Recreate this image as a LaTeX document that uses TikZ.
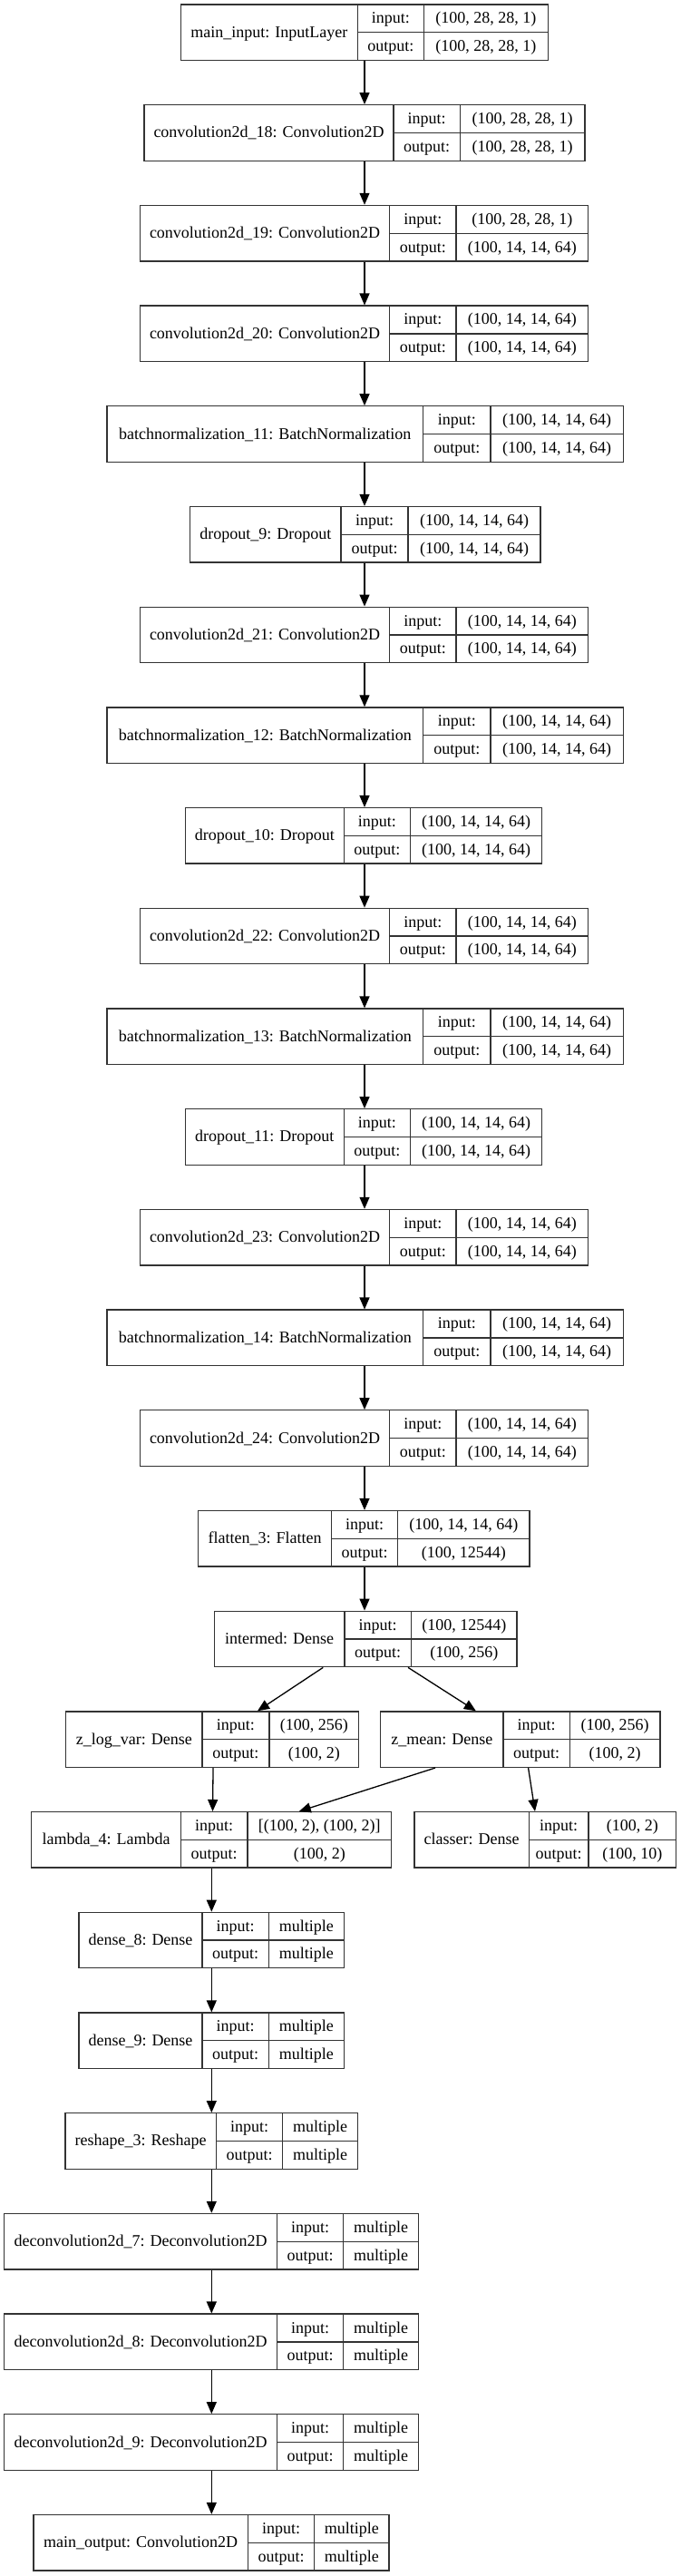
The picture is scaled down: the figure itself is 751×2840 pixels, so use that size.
\documentclass[tikz,border=0pt]{standalone}
\usepackage{fontspec}
\setmainfont{Liberation Serif}
\usetikzlibrary{arrows.meta}
\tikzset{
  rec/.style={draw=black!80, line width=1.3pt, inner sep=0pt, minimum height=61.5pt, fill=white},
  recline/.style={draw=black!80, line width=1.3pt},
  txt/.style={inner sep=0pt, text height=13pt, text depth=2pt, anchor=center},
  arr/.style={draw=black, line width=1.3pt, -{Triangle[length=13pt,width=11pt]}}
}
\newcommand{\layer}[9]{%
  \pgfmathsetmacro{\RKyt}{5+#2*110.7}%
  \pgfmathsetmacro{\RKyb}{\RKyt+61.5}%
  \pgfmathsetmacro{\RKym}{\RKyt+30.75}%
  \pgfmathsetmacro{\RKyi}{\RKyt+15.375}%
  \pgfmathsetmacro{\RKyo}{\RKym+15.375}%
  \pgfmathsetmacro{\RKcx}{(#3+#6)/2}%
  \pgfmathsetmacro{\RKw}{#6-#3}%
  \pgfmathsetmacro{\RKa}{(#3+#4)/2}%
  \pgfmathsetmacro{\RKb}{(#4+#5)/2}%
  \pgfmathsetmacro{\RKc}{(#5+#6)/2}%
  \node[rec, minimum width=\RKw pt] (#1) at (\RKcx,\RKym) {};
  \draw[recline] (#4,\RKyt) -- (#4,\RKyb);
  \draw[recline] (#5,\RKyt) -- (#5,\RKyb);
  \draw[recline] (#4,\RKym) -- (#6,\RKym);
  \node[txt] (#1-l) at (\RKa,\RKym) {#7};
  \node[txt] (#1-i) at (\RKb,\RKyi) {input:};
  \node[txt] (#1-o) at (\RKb,\RKyo) {output:};
  \node[txt] (#1-iv) at (\RKc,\RKyi) {#8};
  \node[txt] (#1-ov) at (\RKc,\RKyo) {#9};
}
\begin{document}
\begin{tikzpicture}[x=1pt, y=-1pt, font=\fontsize{18}{21}\selectfont]
\useasboundingbox[fill=white] (0,0) rectangle (751,2840);
\coordinate (ax) at (402,0);
\coordinate (ax2) at (233.3,0);
\layer{n0}{0}{199.5}{394.3}{467.5}{604.3}{main\_input: InputLayer}{(100, 28, 28, 1)}{(100, 28, 28, 1)}
\layer{n1}{1}{159}{434}{507.3}{645}{convolution2d\_18: Convolution2D}{(100, 28, 28, 1)}{(100, 28, 28, 1)}
\layer{n2}{2}{154.5}{429.5}{503}{648.5}{convolution2d\_19: Convolution2D}{(100, 28, 28, 1)}{(100, 14, 14, 64)}
\layer{n3}{3}{154.5}{429.5}{503}{648.5}{convolution2d\_20: Convolution2D}{(100, 14, 14, 64)}{(100, 14, 14, 64)}
\layer{n4}{4}{118}{466.5}{541}{687.3}{batchnormalization\_11: BatchNormalization}{(100, 14, 14, 64)}{(100, 14, 14, 64)}
\layer{n5}{5}{209.6}{376}{450}{596}{dropout\_9: Dropout}{(100, 14, 14, 64)}{(100, 14, 14, 64)}
\layer{n6}{6}{154.5}{429.5}{503}{648.5}{convolution2d\_21: Convolution2D}{(100, 14, 14, 64)}{(100, 14, 14, 64)}
\layer{n7}{7}{118}{466.5}{541}{687.3}{batchnormalization\_12: BatchNormalization}{(100, 14, 14, 64)}{(100, 14, 14, 64)}
\layer{n8}{8}{204.3}{379.3}{452.3}{597.7}{dropout\_10: Dropout}{(100, 14, 14, 64)}{(100, 14, 14, 64)}
\layer{n9}{9}{154.5}{429.5}{503}{648.5}{convolution2d\_22: Convolution2D}{(100, 14, 14, 64)}{(100, 14, 14, 64)}
\layer{n10}{10}{118}{466.5}{541}{687.3}{batchnormalization\_13: BatchNormalization}{(100, 14, 14, 64)}{(100, 14, 14, 64)}
\layer{n11}{11}{204.3}{379.3}{452.3}{597.7}{dropout\_11: Dropout}{(100, 14, 14, 64)}{(100, 14, 14, 64)}
\layer{n12}{12}{154.5}{429.5}{503}{648.5}{convolution2d\_23: Convolution2D}{(100, 14, 14, 64)}{(100, 14, 14, 64)}
\layer{n13}{13}{118}{466.5}{541}{687.3}{batchnormalization\_14: BatchNormalization}{(100, 14, 14, 64)}{(100, 14, 14, 64)}
\layer{n14}{14}{154.5}{429.5}{503}{648.5}{convolution2d\_24: Convolution2D}{(100, 14, 14, 64)}{(100, 14, 14, 64)}
\layer{n15}{15}{218.7}{365.3}{438.7}{584}{flatten\_3: Flatten}{(100, 14, 14, 64)}{(100, 12544)}
\layer{n16}{16}{236.4}{379.9}{453.5}{570}{intermed: Dense}{(100, 12544)}{(100, 256)}
\layer{zlv}{17}{72.7}{222.9}{297}{395.8}{z\_log\_var: Dense}{(100, 256)}{(100, 2)}
\layer{zm}{17}{419.8}{555}{628.3}{728}{z\_mean: Dense}{(100, 256)}{(100, 2)}
\layer{lam}{18}{34.7}{199.3}{273}{431.5}{lambda\_4: Lambda}{[(100, 2), (100, 2)]}{(100, 2)}
\layer{cls}{18}{457}{583.3}{649}{745.7}{classer: Dense}{(100, 2)}{(100, 10)}
\layer{d8}{19}{87}{223}{296.3}{379.3}{dense\_8: Dense}{multiple}{multiple}
\layer{d9}{20}{87}{223}{296.3}{379.3}{dense\_9: Dense}{multiple}{multiple}
\layer{rs}{21}{72}{238.3}{311.7}{394.7}{reshape\_3: Reshape}{multiple}{multiple}
\layer{dc7}{22}{4.7}{305.3}{378.7}{461.3}{deconvolution2d\_7: Deconvolution2D}{multiple}{multiple}
\layer{dc8}{23}{4.7}{305.3}{378.7}{461.3}{deconvolution2d\_8: Deconvolution2D}{multiple}{multiple}
\layer{dc9}{24}{4.7}{305.3}{378.7}{461.3}{deconvolution2d\_9: Deconvolution2D}{multiple}{multiple}
\layer{mo}{25}{37}{273.3}{346.7}{429}{main\_output: Convolution2D}{multiple}{multiple}
% main chain
\foreach \a/\b in {n0/n1,n1/n2,n2/n3,n3/n4,n4/n5,n5/n6,n6/n7,n7/n8,n8/n9,n9/n10,n10/n11,n11/n12,n12/n13,n13/n14,n14/n15,n15/n16}
  \draw[arr] (\a.south -| ax) -- (\b.north -| ax);
% branches
\draw[arr] ([xshift=-46.9pt]n16.south) -- ([xshift=49.75pt]zlv.north);
\draw[arr] ([xshift=46.8pt]n16.south) -- ([xshift=-49.1pt]zm.north);
\draw[arr] ([xshift=0.8pt]zlv.south) -- ([xshift=1.4pt]lam.north);
\draw[arr] ([xshift=-93.9pt]zm.south) -- ([xshift=96.7pt]lam.north);
\draw[arr] ([xshift=8.7pt]zm.south) -- ([xshift=-11.35pt]cls.north);
% decoder chain
\foreach \a/\b in {lam/d8,d8/d9,d9/rs,rs/dc7,dc7/dc8,dc8/dc9,dc9/mo}
  \draw[arr] (\a.south -| ax2) -- (\b.north -| ax2);
\end{tikzpicture}
\end{document}
